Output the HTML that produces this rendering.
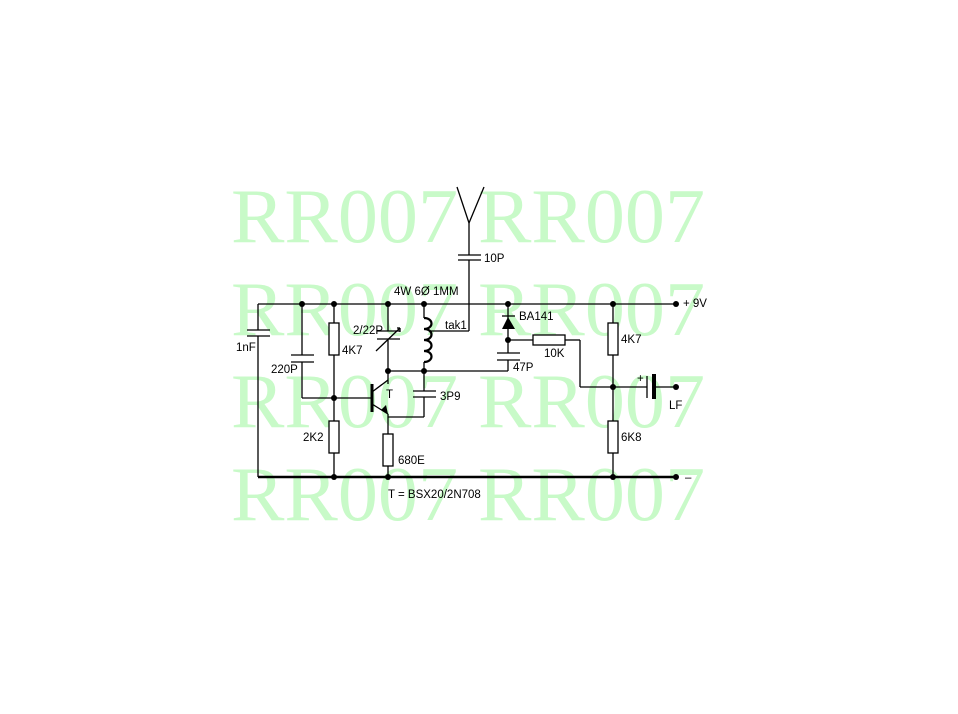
<!DOCTYPE html>
<html><head><meta charset="utf-8"><style>
html,body{margin:0;padding:0;background:#fff;}
svg{display:block;}
.w{font-family:"Liberation Serif",serif;font-size:77px;fill:#c8fac8;}
.t{font-family:"Liberation Sans",sans-serif;font-size:11.5px;fill:#000;}
</style></head><body>
<svg width="958" height="714" viewBox="0 0 958 714" xmlns="http://www.w3.org/2000/svg">
<g class="w">
<text x="231" y="242" textLength="474" lengthAdjust="spacingAndGlyphs">RR007 RR007</text>
<text x="231" y="335" textLength="474" lengthAdjust="spacingAndGlyphs">RR007 RR007</text>
<text x="231" y="427" textLength="474" lengthAdjust="spacingAndGlyphs">RR007 RR007</text>
<text x="231" y="520" textLength="474" lengthAdjust="spacingAndGlyphs">RR007 RR007</text>
</g>
<g stroke="#000" stroke-width="1.3" fill="none">
<line x1="258" y1="304" x2="676" y2="304"/>
<line x1="258" y1="477" x2="676" y2="477" stroke-width="2.5"/>
<line x1="258" y1="304" x2="258" y2="330"/><line x1="258" y1="336" x2="258" y2="477"/>
<line x1="247" y1="330" x2="270" y2="330"/><line x1="247" y1="336" x2="270" y2="336"/>
<line x1="302" y1="304" x2="302" y2="355"/><line x1="302" y1="362" x2="302" y2="398"/>
<line x1="291" y1="355" x2="314" y2="355"/><line x1="291" y1="362" x2="314" y2="362"/>
<line x1="302" y1="398" x2="372" y2="398"/>
<line x1="334" y1="304" x2="334" y2="477"/>
<rect x="329" y="323" width="10" height="32" fill="#fff"/>
<rect x="329" y="421" width="10" height="32" fill="#fff"/>
<line x1="388" y1="304" x2="388" y2="331"/><line x1="388" y1="339" x2="388" y2="384"/>
<line x1="377" y1="331" x2="400" y2="331"/><line x1="377" y1="339" x2="400" y2="339"/>
<line x1="376" y1="351" x2="400" y2="328"/><line x1="397" y1="328" x2="400" y2="328"/><line x1="400" y1="328" x2="400" y2="332"/>
<line x1="372" y1="384" x2="372" y2="412" stroke-width="3"/>
<line x1="372" y1="392" x2="388" y2="380"/>
<line x1="372" y1="404" x2="388" y2="414"/>
<line x1="388" y1="414" x2="388" y2="434"/>
<line x1="388" y1="417" x2="424" y2="417"/>
<line x1="424" y1="417" x2="424" y2="397"/><line x1="424" y1="391" x2="424" y2="371"/>
<line x1="413" y1="391" x2="436" y2="391"/><line x1="413" y1="397" x2="436" y2="397"/>
<line x1="388" y1="371" x2="508" y2="371"/>
<rect x="383" y="434" width="10" height="32" fill="#fff"/>
<line x1="388" y1="466" x2="388" y2="477"/>
<line x1="424" y1="304" x2="424" y2="318"/><line x1="424" y1="362" x2="424" y2="371"/>
<path d="M424 318 C434 318 434 329 424 329 C434 329 434 340 424 340 C434 340 434 351 424 351 C434 351 434 362 424 362" stroke-width="2.2"/>
<line x1="430" y1="331" x2="469" y2="331"/>
<line x1="469" y1="331" x2="469" y2="260"/><line x1="469" y1="255" x2="469" y2="223"/>
<line x1="458" y1="255" x2="481" y2="255"/><line x1="458" y1="260" x2="481" y2="260"/>
<line x1="457" y1="187" x2="469" y2="223"/><line x1="484" y1="187" x2="469" y2="223"/>
<line x1="508" y1="304" x2="508" y2="353"/><line x1="508" y1="360" x2="508" y2="371"/>
<line x1="502" y1="316" x2="515" y2="316"/>
<line x1="497" y1="353" x2="520" y2="353"/><line x1="497" y1="360" x2="520" y2="360"/>
<line x1="508" y1="340" x2="533" y2="340"/>
<rect x="533" y="335" width="32" height="10" fill="#fff"/>
<line x1="565" y1="340" x2="580" y2="340"/><line x1="580" y1="340" x2="580" y2="387"/>
<line x1="580" y1="387" x2="647" y2="387"/>
<line x1="613" y1="304" x2="613" y2="477"/>
<rect x="608" y="323" width="10" height="32" fill="#fff"/>
<rect x="608" y="421" width="10" height="32" fill="#fff"/>
<line x1="647" y1="376" x2="647" y2="398"/>
<line x1="654" y1="374" x2="654" y2="399" stroke-width="4"/>
<line x1="654" y1="387" x2="676" y2="387"/>
</g>
<polygon points="502,329 515,329 508,317" fill="#000"/>
<polygon points="388,414 381,410 386,405" fill="#000"/>
<g fill="#000">
<circle cx="302" cy="304" r="3"/><circle cx="334" cy="304" r="3"/><circle cx="388" cy="304" r="3"/><circle cx="424" cy="304" r="3"/>
<circle cx="508" cy="304" r="3"/><circle cx="613" cy="304" r="3"/><circle cx="676" cy="304" r="3"/>
<circle cx="334" cy="398" r="3"/><circle cx="388" cy="371" r="3"/><circle cx="424" cy="371" r="3"/>
<circle cx="508" cy="340" r="3"/><circle cx="613" cy="387" r="3"/><circle cx="676" cy="387" r="3"/>
<circle cx="334" cy="477" r="3"/><circle cx="388" cy="477" r="3"/><circle cx="613" cy="477" r="3"/><circle cx="676" cy="477" r="3"/>
</g>
<g class="t">
<text x="484" y="262">10P</text>
<text x="394" y="295">4W 6Ø 1MM</text>
<text x="683" y="307">+ 9V</text>
<text x="353" y="334">2/22P</text>
<text x="445" y="329">tak1</text>
<text x="519" y="320">BA141</text>
<text x="236" y="351">1nF</text>
<text x="342" y="354">4K7</text>
<text x="271" y="373">220P</text>
<text x="544" y="357">10K</text>
<text x="513" y="371">47P</text>
<text x="621" y="343">4K7</text>
<text x="637" y="382">+</text>
<text x="386" y="398">T</text>
<text x="440" y="400">3P9</text>
<text x="669" y="409">LF</text>
<text x="303" y="441">2K2</text>
<text x="621" y="441">6K8</text>
<text x="398" y="464">680E</text>
<text x="685" y="481">–</text>
<text x="388" y="498">T = BSX20/2N708</text>
</g>
</svg>
</body></html>
